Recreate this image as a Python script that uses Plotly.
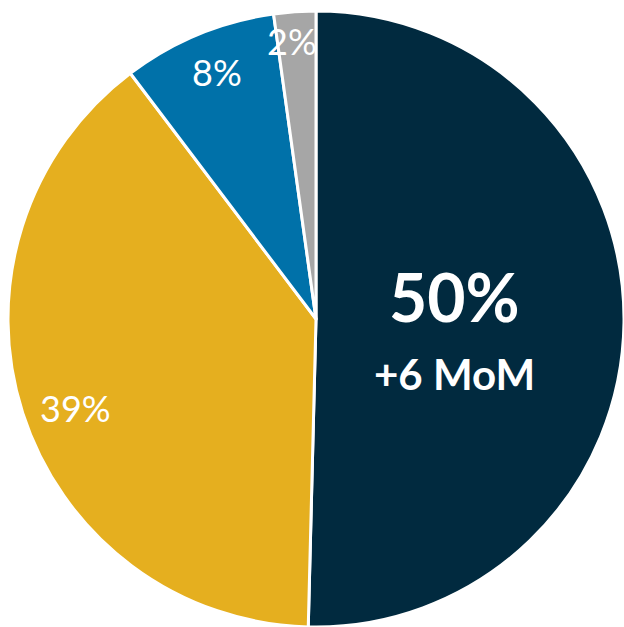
import numpy as np
import plotly.graph_objects as go

# Data
categories = ["A", "B", "C", "D"]
values = [50.4, 39.3, 8.1, 2.2]
labels = ["50%", "39%", "8%", "2%"]
sublabel = "+6 MoM"
colors = ["#012A3F", "#E5AF1F", "#0071A9", "#A6A6A6"]

W, H = 624, 627
cx, cy, R = 316, 319, 308  # px from left/top

fig = go.Figure(go.Pie(
    labels=categories, values=values, sort=False, direction="clockwise",
    rotation=0, textinfo="none", hoverinfo="label+percent",
    marker=dict(colors=colors, line=dict(color="white", width=3)),
    domain=dict(x=[max(0, (cx - R) / W), min(1, (cx + R) / W)],
                y=[max(0, (H - cy - R) / H), min(1, (H - cy + R) / H)]),
    showlegend=False,
))

# label positions computed from slice mid-angles
total = sum(values)
cum = np.cumsum([0] + values[:-1])
mids = (cum + np.array(values) / 2) / total * 2 * np.pi
radial = [0.45, 0.84, 0.86, 0.9]
offsets = [(0, 0), (6, -10), (2, 2), (-5, 1)]  # px (x right, y up)
sizes = [36, 36, 36, 36]
for i, (lab, a, rf, s, off) in enumerate(zip(labels, mids, radial, sizes, offsets)):
    px = cx + rf * R * np.sin(a)
    py_up = (H - cy) + rf * R * np.cos(a)
    common = dict(x=px / W, y=py_up / H, xref="paper", yref="paper",
                  xanchor="center", yanchor="middle", showarrow=False,
                  xshift=off[0])
    if i == 0:
        fig.add_annotation(**common, text="<b>" + lab + "</b>", yshift=24,
                           font=dict(family="Lato", size=66, color="white"))
        fig.add_annotation(**common, text="<b>" + sublabel + "</b>", yshift=-53,
                           font=dict(family="Lato", size=42, color="white"))
    else:
        fig.add_annotation(**common, text=lab, yshift=off[1],
                           font=dict(family="Lato", size=s, color="white"))

fig.update_layout(width=W, height=H, margin=dict(l=0, r=0, t=0, b=0),
                  paper_bgcolor="white", plot_bgcolor="white")
fig.write_html("out.html")
